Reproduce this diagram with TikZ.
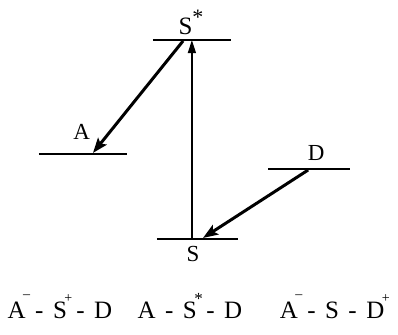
\documentclass[tikz,border=0pt]{standalone}
\usepackage{fontspec}
\setmainfont{Liberation Serif}
\usetikzlibrary{arrows.meta}
\newcommand{\chg}[3][0.64em]{#2\rlap{\kern-0.1em\raisebox{#1}{\fontsize{14}{14}\selectfont #3}}}
\newcommand{\bnd}{\hspace{0.38em}-\hspace{0.38em}}

\begin{document}
\begin{tikzpicture}[x=1cm,y=1cm,every node/.style={font=\fontsize{23}{27}\selectfont,inner sep=0pt},
    level/.style={line width=2.4pt},
    transfer/.style={line width=3pt,-{Stealth[length=15pt,width=11pt,inset=3pt]}},
    excite/.style={line width=1.4pt,-{Triangle[length=13pt,width=8pt]}}]
    \useasboundingbox (0,0) rectangle (14,11.75);

    % energy levels
    \draw[level] (5.38,10.34) -- (8.13,10.34);
    \draw[level] (1.37,6.33) -- (4.47,6.33);
    \draw[level] (9.43,5.80) -- (12.31,5.80);
    \draw[level] (5.52,3.34) -- (8.37,3.34);

    \node[anchor=base,font=\fontsize{25}{29}\selectfont] (sstarlbl) at (6.72,10.52)
      {S\raisebox{0.42em}{\fontsize{22}{22}\selectfont *}};
    \node[anchor=base] (albl) at (2.87,6.83) {A};
    \node[anchor=base] (dlbl) at (11.12,6.12) {D};
    \node[anchor=base] (slbl) at (6.79,2.55) {S};

    % arrow ends on the levels
    \coordinate (sbot) at (6.75,3.34);
    \coordinate (stop) at (6.75,10.34);
    \coordinate (sstarout) at (6.44,10.31);
    \coordinate (ain) at (3.27,6.37);
    \coordinate (dout) at (10.84,5.77);
    \coordinate (sin) at (7.14,3.38);

    \draw[excite] (sbot) -- (stop);
    \draw[transfer] (sstarout) -- (ain);
    \draw[transfer] (dout) -- (sin);

    % states
    \begin{scope}[every node/.style={font=\fontsize{25}{30}\selectfont,inner sep=0pt,anchor=base}]
      \node (stateone) at (2.11,0.56) {\chg[0.8em]{A}{--}\bnd\chg{S}{+}\bnd D};
      \node (statetwo) at (6.68,0.56) {A\bnd\chg[0.56em]{S}{\fontsize{17}{17}\selectfont *}\bnd D};
      \node (statethree) at (11.68,0.56) {\chg[0.8em]{A}{--}\bnd S\bnd\chg{D}{+}};
    \end{scope}
  \end{tikzpicture}
\end{document}
